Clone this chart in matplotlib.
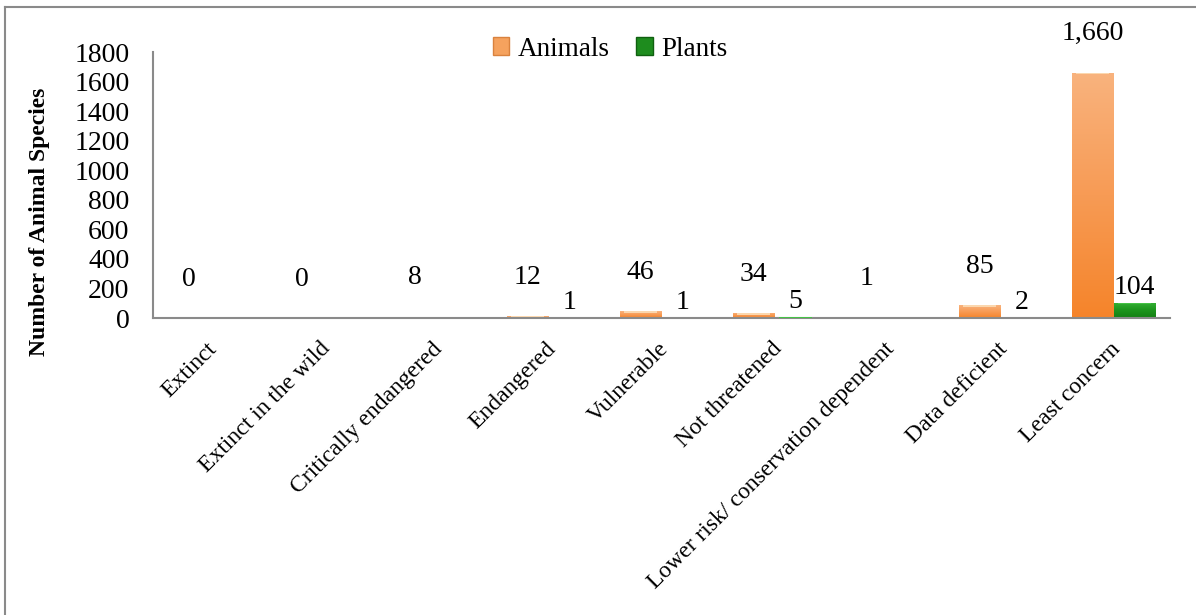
import matplotlib
matplotlib.use("Agg")
import matplotlib.pyplot as plt
import matplotlib.transforms as mtransforms
from matplotlib.colors import LinearSegmentedColormap
from matplotlib.patches import Patch
import numpy as np

# categories and values
categories = ["Extinct", "Extinct in the wild", "Critically endangered", "Endangered",
              "Vulnerable", "Not threatened", "Lower risk/ conservation dependent",
              "Data deficient", "Least concern"]
animals = [0, 0, 8, 12, 46, 34, 1, 85, 1660]
plants = [np.nan, np.nan, np.nan, 1, 1, 5, np.nan, 2, 104]
yticks = [0, 200, 400, 600, 800, 1000, 1200, 1400, 1600, 1800]

plt.rcParams['font.family'] = ['Liberation Serif', 'DejaVu Serif']

fig = plt.figure(figsize=(11.96, 6.15), dpi=100)
ax = fig.add_axes([153 / 1196, 1 - 318 / 615, (1170 - 153) / 1196, (318 - 52) / 615])

x = np.arange(len(categories))
w = 0.37

anim_cmap = LinearSegmentedColormap.from_list("anim", ["#f5842a", "#f79b55", "#f9b37e"])
plant_cmap = LinearSegmentedColormap.from_list("plant", ["#137f13", "#1d951d", "#36b236"])


def shade(bars, cmap, cap):
    # vertical gradient fill clipped to each bar, with a pale top cap
    grad = np.linspace(0, 1, 256).reshape(-1, 1)
    for b in bars:
        h = b.get_height()
        if not np.isfinite(h) or h <= 0:
            continue
        x0 = b.get_x()
        im = ax.imshow(grad, cmap=cmap, aspect="auto", origin="lower",
                       extent=[x0, x0 + b.get_width(), 0, h], zorder=2)
        im.set_clip_path(b)
        ch = min(h * 0.4, 12)
        ax.bar(x0 + b.get_width() / 2, ch, b.get_width() * 0.8, bottom=h - ch,
               color=cap, edgecolor="none", zorder=3)


ab = ax.bar(x - w / 2, animals, w, color="#f79a50", edgecolor="none", zorder=1)
pb = ax.bar(x + w / 2, np.nan_to_num(plants), w, color="#1e941e", edgecolor="none", zorder=1)
shade(ab, anim_cmap, "#fbd7ae")
shade(pb, plant_cmap, "#45c245")

ax.set_xlim(-0.5, len(categories) - 0.5)
ax.set_ylim(0, 1800)
ax.set_yticks(yticks)
ax.set_yticklabels([str(t) for t in yticks], fontsize=20)
ax.tick_params(axis="y", length=0, pad=17)
ax.set_xticks(x)
ax.set_xticklabels(categories, fontsize=17, rotation=45, ha="right",
                   va="center", rotation_mode="anchor")
ax.tick_params(axis="x", length=0, pad=20)
shift = mtransforms.ScaledTranslation(4 / 100, 0, fig.dpi_scale_trans)
for lab in ax.get_xticklabels():
    lab.set_transform(lab.get_transform() + shift)

for s in ["top", "right"]:
    ax.spines[s].set_visible(False)
for s in ["left", "bottom"]:
    ax.spines[s].set_color("#8a8a8a")
    ax.spines[s].set_linewidth(1.5)

# data labels
for xi, v in zip(x, animals):
    ax.annotate(f"{v:,}", (xi - w / 2, v), xytext=(0, 28), textcoords="offset points",
                ha="center", va="center", fontsize=20)
for xi, v in zip(x, plants):
    if np.isnan(v):
        continue
    ax.annotate(f"{int(v):,}", (xi + w / 2, v), xytext=(0, 11), textcoords="offset points",
                ha="center", va="center", fontsize=20)

fig.text(40 / 1196, 1 - 222 / 615, "Number of Animal Species", rotation=90,
         ha="center", va="center", fontsize=17, fontweight="bold")

handles = [Patch(facecolor="#f5a25e", edgecolor="#d9823e", label="Animals"),
           Patch(facecolor="#1e8c1e", edgecolor="#106010", label="Plants")]
fig.legend(handles=handles, loc="center", bbox_to_anchor=(610 / 1196, 1 - 49 / 615),
           ncol=2, frameon=False, fontsize=19.5, handlelength=0.6, handleheight=0.6,
           handletextpad=0.3, columnspacing=1.0)

# outer chart border (top and left visible)
fig.add_artist(plt.Line2D([5 / 1196, 5 / 1196], [0, 1 - 7 / 615], color="#8a8a8a",
                          linewidth=1.5, transform=fig.transFigure))
fig.add_artist(plt.Line2D([5 / 1196, 1], [1 - 7 / 615, 1 - 7 / 615], color="#8a8a8a",
                          linewidth=1.5, transform=fig.transFigure))

fig.savefig("out.png", dpi=100)
